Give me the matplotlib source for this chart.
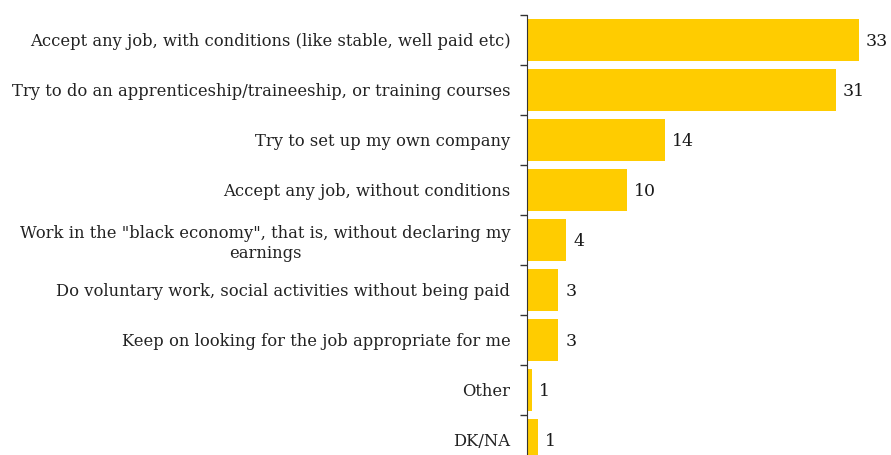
import numpy as np
import matplotlib.pyplot as plt
from matplotlib.ticker import FixedLocator

categories = [
    'Accept any job, with conditions (like stable, well paid etc)',
    'Try to do an apprenticeship/traineeship, or training courses',
    'Try to set up my own company',
    'Accept any job, without conditions',
    'Work in the "black economy", that is, without declaring my\nearnings',
    'Do voluntary work, social activities without being paid',
    'Keep on looking for the job appropriate for me',
    'Other',
    'DK/NA',
]
values = [33.0, 30.7, 13.7, 9.9, 3.9, 3.1, 3.1, 0.45, 1.1]
value_labels = ['33', '31', '14', '10', '4', '3', '3', '1', '1']

plt.rcParams['font.family'] = ['DejaVu Serif']

fig = plt.figure(figsize=(8.91, 4.55), dpi=100)
ax = fig.add_axes([527/891, 1 - 465/455, 364/891, 450/455])

y = np.arange(len(categories))
ax.barh(y, values, height=0.84, color='#FFCC00')

for yi, v, lab in zip(y, values, value_labels):
    ax.text(v + 0.7, yi + 0.03, lab, va='center', ha='left', fontsize=12.5, color='#1a1a1a')

ax.set_ylim(len(categories) - 0.5, -0.5)
ax.set_xlim(0, 36.2)
ax.set_yticks(y)
ax.set_yticklabels(categories, fontsize=11.8, color='#222222', multialignment='center')
ax.yaxis.set_minor_locator(FixedLocator(np.arange(len(categories) + 1) - 0.5))
ax.tick_params(axis='y', which='major', length=0, pad=12)
ax.tick_params(axis='y', which='minor', length=5, width=1, color='#333333')
ax.set_xticks([])
for s in ['top', 'right', 'bottom']:
    ax.spines[s].set_visible(False)
ax.spines['left'].set_color('#333333')

fig.savefig('out.png', dpi=100)
